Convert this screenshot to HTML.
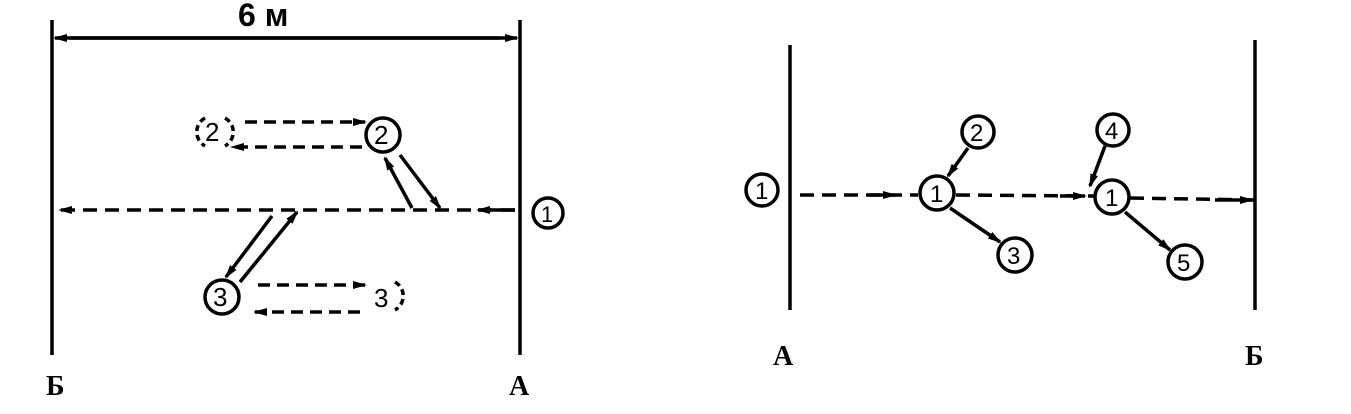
<!DOCTYPE html>
<html><head><meta charset="utf-8"><style>
html,body{margin:0;padding:0;background:#fff;}
svg{display:block}
text{font-family:"Liberation Sans",sans-serif;fill:#000}
.b{font-family:"Liberation Serif",serif;font-weight:bold;font-size:28px}
</style></head><body>
<svg width="1351" height="414" viewBox="0 0 1351 414" xmlns="http://www.w3.org/2000/svg">
<defs>
<marker id="a" markerWidth="14" markerHeight="10" refX="12" refY="5" orient="auto" markerUnits="userSpaceOnUse">
<path d="M0,1 L14,5 L0,9 Z" fill="#000"/></marker>
</defs>
<g stroke="#000" stroke-width="3.5" fill="none">
<line x1="52" y1="20" x2="52" y2="355"/>
<line x1="520" y1="20" x2="520" y2="355"/>
<line x1="70" y1="38" x2="500" y2="38"/>
<line x1="285" y1="38" x2="55" y2="38" marker-end="url(#a)"/>
<line x1="285" y1="38" x2="517" y2="38" marker-end="url(#a)"/>
<line x1="515" y1="210" x2="60" y2="210" stroke-dasharray="14,8" marker-end="url(#a)"/>
<line x1="515" y1="210" x2="478" y2="210" marker-end="url(#a)"/>
<circle cx="548" cy="213" r="15"/>
<circle cx="383" cy="135" r="17"/>
<path d="M205,118 A16,16 0 0 0 205,146" stroke-dasharray="6,4"/>
<path d="M225,118 A16,16 0 0 1 225,146" stroke-dasharray="6,4"/>
<line x1="245" y1="122" x2="365" y2="122" stroke-dasharray="12,7" marker-end="url(#a)"/>
<line x1="362" y1="147" x2="232" y2="147" stroke-dasharray="12,7" marker-end="url(#a)"/>
<line x1="412" y1="208" x2="385" y2="158" marker-end="url(#a)"/>
<line x1="400" y1="155" x2="440" y2="208" marker-end="url(#a)"/>
<circle cx="222" cy="297" r="17"/>
<path d="M395,282 A16,16 0 0 1 395,310" stroke-dasharray="6,4"/>
<line x1="258" y1="285" x2="365" y2="285" stroke-dasharray="12,7" marker-end="url(#a)"/>
<line x1="360" y1="312" x2="255" y2="312" stroke-dasharray="12,7" marker-end="url(#a)"/>
<line x1="272" y1="216" x2="226" y2="277" marker-end="url(#a)"/>
<line x1="240" y1="282" x2="297" y2="212" marker-end="url(#a)"/>
<line x1="790" y1="45" x2="790" y2="310"/>
<line x1="1255" y1="40" x2="1255" y2="310"/>
<circle cx="762" cy="190" r="16"/>
<line x1="800" y1="195" x2="918" y2="195" stroke-dasharray="14,8"/>
<line x1="870" y1="195" x2="895" y2="195" marker-end="url(#a)"/>
<line x1="956" y1="195" x2="1094" y2="196" stroke-dasharray="14,8"/>
<line x1="1060" y1="196" x2="1085" y2="196" marker-end="url(#a)"/>
<line x1="1130" y1="198" x2="1255" y2="200" stroke-dasharray="14,8"/>
<line x1="1215" y1="200" x2="1252" y2="200" marker-end="url(#a)"/>
<circle cx="937" cy="193" r="17"/>
<circle cx="978" cy="132" r="16"/>
<circle cx="1015" cy="255" r="17"/>
<line x1="968" y1="148" x2="948" y2="176" marker-end="url(#a)"/>
<line x1="950" y1="208" x2="1000" y2="242" marker-end="url(#a)"/>
<circle cx="1112" cy="197" r="17"/>
<circle cx="1113" cy="130" r="16"/>
<circle cx="1185" cy="262" r="17"/>
<line x1="1105" y1="146" x2="1090" y2="186" marker-end="url(#a)"/>
<line x1="1125" y1="212" x2="1170" y2="250" marker-end="url(#a)"/>
</g>
<text x="238" y="26" font-size="32" font-weight="bold">6 м</text>
<text x="541" y="222" font-size="22">1</text>
<text x="374" y="144" font-size="26">2</text>
<text x="205" y="141" font-size="26">2</text>
<text x="213" y="306" font-size="26">3</text>
<text x="374" y="307" font-size="26">3</text>
<text class="b" x="46" y="395">Б</text>
<text class="b" x="509" y="395">А</text>
<text x="755" y="199" font-size="24">1</text>
<text x="930" y="202" font-size="24">1</text>
<text x="970" y="141" font-size="24">2</text>
<text x="1007" y="264" font-size="24">3</text>
<text x="1105" y="206" font-size="24">1</text>
<text x="1105" y="139" font-size="24">4</text>
<text x="1177" y="271" font-size="24">5</text>
<text class="b" x="773" y="365">А</text>
<text class="b" x="1245" y="365">Б</text>
</svg>
</body></html>
